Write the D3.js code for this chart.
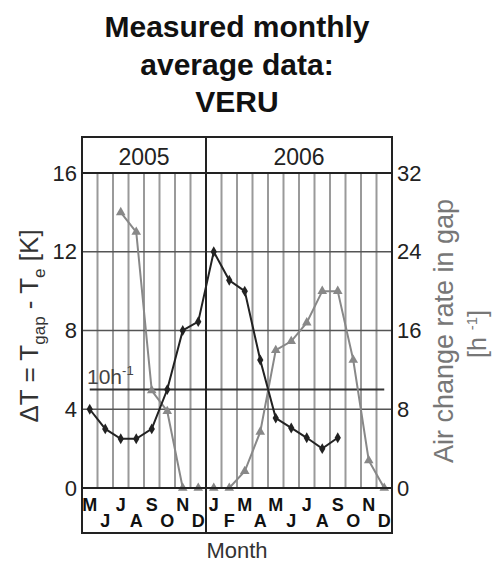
<!DOCTYPE html>
<html>
<head>
<meta charset="utf-8">
<script src="https://cdn.jsdelivr.net/npm/d3@7"></script>
<style>
  body { margin: 0; background: #fff; }
  svg { display: block; font-family: "Liberation Sans", Arial, sans-serif; }
</style>
</head>
<body>
<svg id="chart" width="495" height="564"></svg>
<script>
// months from May 2005 to Dec 2006
const years = ["2005", "2006"];
const monthKeys = ["2005-05","2005-06","2005-07","2005-08","2005-09","2005-10","2005-11","2005-12",
  "2006-01","2006-02","2006-03","2006-04","2006-05","2006-06","2006-07","2006-08","2006-09","2006-10","2006-11","2006-12"];
const monthLabels = ["M","J","J","A","S","O","N","D","J","F","M","A","M","J","J","A","S","O","N","D"];
// delta T [K], left axis
const deltaT = [4.0, 3.0, 2.5, 2.5, 3.0, 5.0, 8.0, 8.45, 12.0, 10.55, 10.0, 6.5, 3.55, 3.05, 2.55, 2.0, 2.55, null, null, null];
// air change rate [1/h], right axis
const airChange = [null, null, 28, 26, 9.9, 7.8, 0, 0, 0, 0, 1.7, 5.7, 14.0, 14.9, 16.8, 20, 20, 13.0, 2.8, 0];
const leftTicks = [0, 4, 8, 12, 16];
const rightTicks = [0, 8, 16, 24, 32];
const refRate = 10;

const svg = d3.select("#chart");
const L = 82, R = 392, T = 173, B = 488, headTop = 137, bandBottom = 533;

const x = d3.scaleBand().domain(monthKeys).range([L, R]).padding(0);
const yL = d3.scaleLinear().domain([0, 16]).range([B, T]);
const yR = d3.scaleLinear().domain([0, 32]).range([B, T]);
const cx = k => x(k) + x.bandwidth() / 2;

// title
svg.append("text")
  .attr("text-anchor", "middle")
  .attr("font-weight", "bold").attr("font-size", 30).attr("fill", "#111")
  .selectAll("tspan")
  .data(["Measured monthly", "average data:", "VERU"])
  .join("tspan")
  .attr("x", 237).attr("y", (d, i) => 37 + i * 37.5)
  .text(d => d);

// vertical grid (month boundaries)
svg.append("g")
  .selectAll("line")
  .data(monthKeys.slice(1))
  .join("line")
  .attr("x1", d => x(d)).attr("x2", d => x(d))
  .attr("y1", T).attr("y2", B)
  .attr("stroke", "#9a9a9a").attr("stroke-width", 2);

// horizontal grid
svg.append("g")
  .selectAll("line")
  .data(leftTicks.slice(1, -1))
  .join("line")
  .attr("x1", L).attr("x2", R)
  .attr("y1", d => yL(d)).attr("y2", d => yL(d))
  .attr("stroke", "#555").attr("stroke-width", 1.5);

// 10 h-1 reference line
svg.append("line")
  .attr("x1", cx(monthKeys[0])).attr("x2", cx(monthKeys[monthKeys.length - 1]))
  .attr("y1", yR(refRate)).attr("y2", yR(refRate))
  .attr("stroke", "#333").attr("stroke-width", 2);
const ref = svg.append("text")
  .attr("x", 87).attr("y", yR(refRate) - 6)
  .attr("font-size", 21).attr("fill", "#444");
ref.append("tspan").text("10h");
ref.append("tspan").attr("font-size", 13).attr("dy", -9).text("-1");

// air change series (grey)
const lineR = d3.line()
  .defined(d => d.v != null)
  .x(d => cx(d.k)).y(d => yR(d.v));
const airData = monthKeys.map((k, i) => ({ k, v: airChange[i] }));
svg.append("path")
  .datum(airData)
  .attr("d", lineR)
  .attr("fill", "none").attr("stroke", "#888").attr("stroke-width", 2);
svg.append("g")
  .selectAll("path")
  .data(airData.filter(d => d.v != null))
  .join("path")
  .attr("d", d3.symbol(d3.symbolTriangle, 40))
  .attr("transform", d => `translate(${cx(d.k)},${yR(d.v)})`)
  .attr("fill", "#888");

// delta T series (black)
const lineL = d3.line()
  .defined(d => d.v != null)
  .x(d => cx(d.k)).y(d => yL(d.v));
const dtData = monthKeys.map((k, i) => ({ k, v: deltaT[i] }));
svg.append("path")
  .datum(dtData)
  .attr("d", lineL)
  .attr("fill", "none").attr("stroke", "#222").attr("stroke-width", 2);
svg.append("g")
  .selectAll("path")
  .data(dtData.filter(d => d.v != null))
  .join("path")
  .attr("d", d3.symbol(d3.symbolDiamond, 34))
  .attr("transform", d => `translate(${cx(d.k)},${yL(d.v)})`)
  .attr("fill", "#222");

// frame
const frame = svg.append("g").attr("stroke", "#222").attr("stroke-width", 2).attr("fill", "none");
frame.append("rect").attr("x", L).attr("y", headTop).attr("width", R - L).attr("height", bandBottom - headTop);
frame.append("line").attr("x1", L).attr("x2", R).attr("y1", T).attr("y2", T);
frame.append("line").attr("x1", L).attr("x2", R).attr("y1", B).attr("y2", B);
frame.append("line").attr("x1", x("2006-01")).attr("x2", x("2006-01")).attr("y1", headTop).attr("y2", bandBottom);

// year header
const yearSpan = [[monthKeys[0], "2005-12"], ["2006-01", "2006-12"]];
svg.append("g")
  .selectAll("text")
  .data(years)
  .join("text")
  .attr("x", (d, i) => (x(yearSpan[i][0]) + x(yearSpan[i][1]) + x.bandwidth()) / 2)
  .attr("y", 165)
  .attr("text-anchor", "middle").attr("font-size", 23).attr("fill", "#222")
  .text(d => d);

// month labels, staggered on two rows
svg.append("g")
  .selectAll("text")
  .data(monthKeys)
  .join("text")
  .attr("x", d => cx(d))
  .attr("y", (d, i) => i % 2 === 0 ? 511 : 527)
  .attr("text-anchor", "middle").attr("font-size", 18).attr("font-weight", "bold").attr("fill", "#111")
  .text((d, i) => monthLabels[i]);

// axes
const axL = svg.append("g").attr("transform", `translate(${L},0)`)
  .call(d3.axisLeft(yL).tickValues(leftTicks).tickSize(0).tickPadding(5));
const axR = svg.append("g").attr("transform", `translate(${R},0)`)
  .call(d3.axisRight(yR).tickValues(rightTicks).tickSize(0).tickPadding(5));
[axL, axR].forEach(a => {
  a.select(".domain").remove();
  a.selectAll("text").attr("font-size", 22).attr("fill", "#222")
    .attr("font-family", "Liberation Sans, Arial, sans-serif");
});

// axis titles
const lt = svg.append("text")
  .attr("transform", "translate(38,326) rotate(-90)")
  .attr("text-anchor", "middle").attr("font-size", 26).attr("fill", "#333");
lt.append("tspan").text("\u0394T = T");
lt.append("tspan").attr("font-size", 17).attr("dy", 7).text("gap");
lt.append("tspan").attr("dy", -7).text(" - T");
lt.append("tspan").attr("font-size", 17).attr("dy", 7).text("e");
lt.append("tspan").attr("dy", -7).text("  [K]");

svg.append("text")
  .attr("transform", "translate(453,331) rotate(-90)")
  .attr("text-anchor", "middle").attr("font-size", 27).attr("fill", "#777")
  .text("Air change rate in gap");
const rt = svg.append("text")
  .attr("transform", "translate(486,334) rotate(-90)")
  .attr("text-anchor", "middle").attr("font-size", 25).attr("fill", "#777");
rt.append("tspan").text("[h ");
rt.append("tspan").attr("font-size", 15).attr("dy", -9).text("-1");
rt.append("tspan").attr("dy", 9).text("]");

svg.append("text")
  .attr("x", 237).attr("y", 558)
  .attr("text-anchor", "middle").attr("font-size", 22).attr("fill", "#333")
  .text("Month");
</script>
</body>
</html>
